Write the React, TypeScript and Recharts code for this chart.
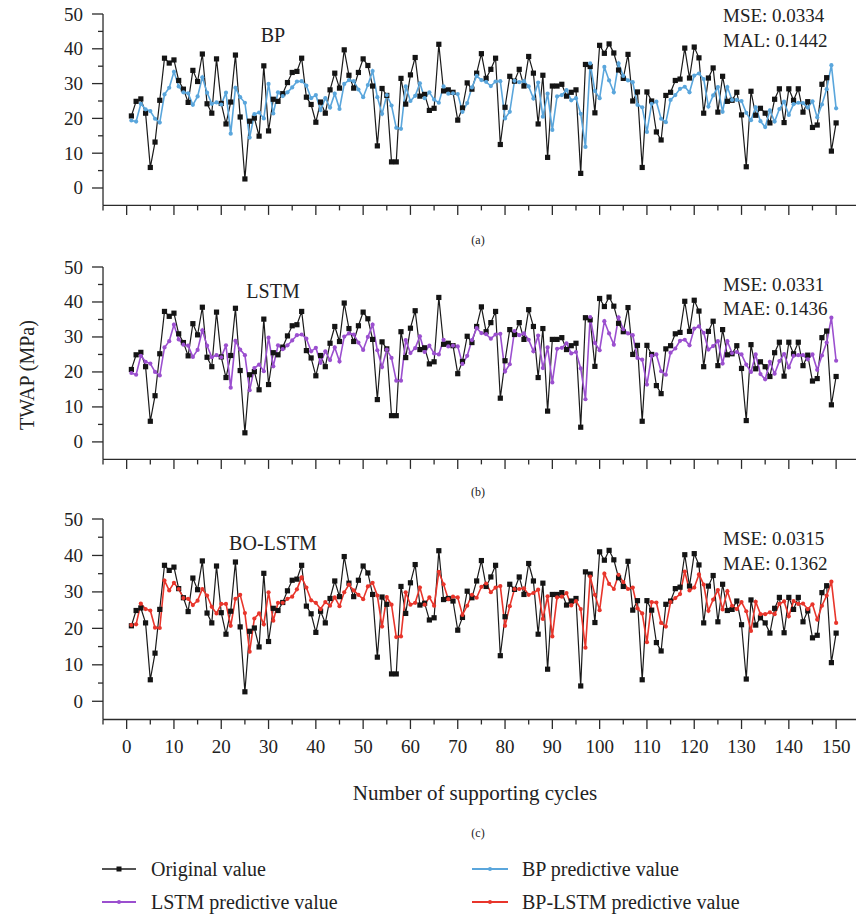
import React from 'react';
import { LineChart, Line, XAxis, YAxis } from 'recharts';

const FONT = '"Liberation Serif", "Times New Roman", serif';
const AXIS = '#2b2b2b';

const cycles: number[] = Array.from({ length: 150 }, (_, i) => i + 1);

const original = [
  20.7, 24.9, 25.6, 21.5, 5.9, 13.2, 25.2, 37.3, 35.9, 36.8,
  30.9, 28.4, 24.6, 33.8, 30.6, 38.5, 24.2, 21.5, 37.1, 24.3,
  18.4, 24.7, 38.2, 20.4, 2.6, 19.2, 20.1, 14.9, 35.1, 16.4,
  25.5, 24.9, 27.1, 30.3, 33.2, 33.5, 37.3, 26.1, 24.0, 18.9,
  24.7, 21.5, 28.2, 33.0, 28.7, 39.7, 32.4, 28.7, 33.2, 37.1,
  35.2, 29.3, 12.1, 28.6, 26.6, 7.5, 7.5, 31.5, 24.1, 32.5,
  37.5, 26.4, 26.9, 22.3, 22.9, 41.3, 27.9, 28.2, 27.5, 19.5,
  23.0, 30.2, 28.4, 33.0, 38.6, 31.5, 34.1, 37.3, 12.5, 23.2,
  32.1, 30.7, 34.1, 29.3, 37.8, 33.0, 18.4, 32.4, 8.8, 29.3,
  29.3, 29.8, 26.4, 27.5, 28.2, 4.2, 35.5, 34.9, 21.6, 41.0,
  38.7, 41.4, 38.8, 33.9, 31.5, 38.4, 25.0, 27.6, 5.9, 27.6,
  25.0, 16.1, 13.8, 26.6, 27.5, 30.9, 31.3, 40.2, 31.6, 40.5,
  37.4, 21.5, 31.6, 34.5, 21.8, 32.1, 24.9, 25.2, 27.5, 21.0,
  6.1, 27.8, 20.9, 22.9, 21.5, 18.7, 25.5, 28.5, 18.8, 28.5,
  25.2, 28.5, 21.8, 24.8, 17.4, 18.1, 29.8, 31.7, 10.6, 18.7,
];

const bpPred = [
  19.4, 19.1, 24.2, 22.6, 22.1, 19.9, 18.8, 26.9, 28.8, 33.4,
  29.2, 27.5, 27.2, 23.9, 26.3, 31.8, 27.4, 24.2, 24.6, 24.0,
  27.4, 15.6, 28.8, 26.1, 24.5, 14.5, 21.2, 21.7, 20.0, 29.9,
  21.4, 27.5, 26.4, 27.5, 28.9, 30.6, 30.7, 29.4, 25.8, 26.7,
  22.4, 25.8, 23.1, 27.1, 22.7, 29.9, 31.0, 30.7, 28.3, 26.1,
  29.6, 33.6, 26.1, 21.3, 26.7, 23.7, 17.3, 17.0, 29.2, 25.0,
  26.5, 30.1, 25.8, 27.5, 25.4, 24.5, 29.2, 27.1, 27.2, 27.0,
  21.9, 24.4, 28.9, 32.2, 31.0, 30.5, 29.3, 30.6, 30.7, 20.0,
  21.9, 30.8, 30.4, 30.7, 29.2, 25.7, 30.3, 20.5, 27.1, 16.7,
  26.3, 26.7, 28.1, 25.2, 25.8, 21.3, 11.8, 35.8, 27.9, 25.8,
  34.8, 30.9, 27.5, 35.8, 32.2, 30.9, 30.4, 23.9, 23.2, 16.1,
  24.2, 24.8, 19.9, 18.9, 25.3, 26.7, 28.5, 29.1, 27.5, 32.3,
  32.9, 31.3, 23.4, 26.6, 29.0, 21.9, 29.0, 25.3, 25.3, 25.0,
  21.6, 19.5, 23.2, 19.2, 17.5, 22.3, 19.1, 22.7, 24.8, 21.0,
  24.1, 24.5, 24.4, 23.1, 24.9, 20.3, 24.0, 28.4, 35.3, 22.9,
];

const lstmPred = [
  19.7, 19.2, 24.6, 22.9, 22.4, 20.0, 19.0, 27.0, 28.8, 33.5,
  29.3, 27.8, 27.5, 24.3, 26.3, 31.9, 27.5, 24.2, 24.8, 24.2,
  27.6, 15.5, 28.9, 26.4, 24.8, 14.8, 21.1, 22.1, 20.2, 29.8,
  21.6, 27.6, 26.5, 27.6, 29.0, 30.5, 30.7, 29.5, 25.9, 26.9,
  22.6, 25.9, 23.4, 27.0, 23.0, 30.1, 31.0, 30.7, 28.4, 26.3,
  30.0, 33.5, 26.2, 21.4, 26.4, 24.0, 17.5, 17.5, 29.1, 25.4,
  26.8, 30.2, 25.7, 27.5, 25.3, 25.0, 29.2, 27.3, 27.5, 27.3,
  22.3, 24.6, 29.1, 32.5, 31.1, 30.8, 29.5, 30.7, 30.9, 20.1,
  22.2, 31.7, 30.5, 31.0, 29.2, 25.9, 30.4, 21.1, 27.0, 17.0,
  26.6, 26.9, 28.2, 25.3, 25.7, 21.0, 12.2, 35.7, 28.3, 26.2,
  34.5, 31.0, 27.8, 35.6, 32.2, 31.0, 30.5, 24.0, 23.5, 16.4,
  24.6, 25.0, 20.2, 19.2, 25.5, 26.7, 28.9, 29.2, 27.6, 32.4,
  33.0, 31.2, 26.4, 27.4, 28.8, 22.4, 28.8, 25.4, 25.7, 25.0,
  22.1, 20.0, 25.0, 19.4, 17.9, 22.9, 19.5, 23.1, 25.1, 21.3,
  24.6, 24.8, 24.8, 23.6, 25.0, 20.6, 24.7, 28.4, 35.5, 23.2,
];

const boLstmPred = [
  20.9, 21.1, 26.8, 25.3, 24.9, 20.2, 20.1, 33.1, 30.4, 32.5,
  30.8, 28.3, 28.1, 26.4, 27.6, 30.8, 29.0, 25.9, 24.1, 26.7,
  26.7, 20.7, 28.1, 29.2, 24.2, 13.6, 22.7, 24.1, 21.1, 29.9,
  22.1, 27.0, 27.0, 28.1, 28.7, 30.7, 34.0, 31.2, 27.7, 27.0,
  25.3, 27.2, 26.2, 28.5, 26.1, 29.9, 32.0, 30.4, 29.2, 28.0,
  31.5, 32.5, 29.0, 20.5, 28.6, 26.5, 17.6, 17.8, 29.9, 26.5,
  27.0, 31.2, 26.5, 28.5, 26.2, 35.5, 32.1, 28.0, 28.7, 28.5,
  23.7, 26.2, 29.2, 28.4, 31.4, 32.3, 29.9, 31.2, 31.6, 20.7,
  26.1, 30.8, 30.8, 31.0, 29.2, 29.7, 30.6, 22.6, 28.8, 17.8,
  28.5, 28.7, 29.7, 26.3, 27.5, 25.3, 14.7, 34.2, 29.2, 25.0,
  35.0, 32.2, 30.8, 34.7, 32.7, 30.8, 31.2, 25.5, 24.1, 16.2,
  27.2, 27.1, 21.5, 20.5, 27.2, 28.3, 29.4, 35.6, 30.4, 31.2,
  34.8, 32.0, 24.8, 27.9, 30.5, 25.2, 30.2, 26.2, 25.3, 27.2,
  24.7, 19.3, 27.3, 23.9, 23.9, 24.4, 23.9, 26.7, 27.4, 23.3,
  27.5, 26.7, 26.8, 25.3, 26.6, 22.4, 26.2, 29.0, 32.8, 21.5,
];

const xTicks = [-5, 0, 5, 10, 15, 20, 25, 30, 35, 40, 45, 50, 55, 60, 65, 70, 75, 80, 85, 90, 95, 100, 105, 110, 115, 120, 125, 130, 135, 140, 145, 150];
const yTicks = [0, 5, 10, 15, 20, 25, 30, 35, 40, 45, 50];

const data = cycles.map((c, i) => ({
  x: c,
  orig: original[i],
  bp: bpPred[i],
  lstm: lstmPred[i],
  bolstm: boLstmPred[i],
}));

const XMAX = 154.2;

const XTick = (props: any) => {
  const { x, y, payload, showLabels } = props;
  const v = payload.value;
  const major = v % 10 === 0 && v >= 0;
  return (
    <g>
      <line x1={x} x2={x} y1={y} y2={y + (major ? 9.5 : 5)} stroke={AXIS} strokeWidth={1.3} />
      {showLabels && major ? (
        <text x={x} y={y + 33} textAnchor="middle" fontFamily={FONT} fontSize={19} fill="#222">
          {v}
        </text>
      ) : null}
    </g>
  );
};

const YTick = (props: any) => {
  const { x, y, payload } = props;
  const v = payload.value;
  const major = v % 10 === 0;
  return (
    <g>
      <line x1={x - (major ? 11 : 5)} x2={x} y1={y} y2={y} stroke={AXIS} strokeWidth={1.3} />
      {major ? (
        <text x={x - 20} y={y + 6.5} textAnchor="end" fontFamily={FONT} fontSize={19} fill="#222">
          {v}
        </text>
      ) : null}
    </g>
  );
};

const squareDot = (p: any) => (
  <rect key={`sq-${p.index}`} x={p.cx - 2.6} y={p.cy - 2.6} width={5.2} height={5.2} fill="#141414" />
);

const makeCircleDot = (color: string) => (p: any) => (
  <circle key={`c-${p.index}`} cx={p.cx} cy={p.cy} r={2.1} fill={color} />
);

const BLUE = '#5aa6dc';
const PURPLE = '#9b4fcf';
const RED = '#e8352b';

function Panel({ plotTop, plotH, keyName, color, showLabels }: any) {
  const mt = 10;
  const xh = 50;
  const H = mt + plotH + xh;
  return (
    <div style={{ position: 'absolute', left: 0, top: plotTop - mt, width: 856, height: H }}>
      <LineChart
        width={856}
        height={H}
        data={data}
        margin={{ top: mt, right: 0, bottom: 0, left: 0 }}
        style={{ overflow: 'visible' }}
      >
        <XAxis
          dataKey="x"
          type="number"
          domain={[-5, XMAX]}
          ticks={xTicks}
          interval={0}
          tickSize={0}
          tickMargin={0}
          height={xh}
          tickLine={false}
          axisLine={{ stroke: AXIS, strokeWidth: 1.3 }}
          tick={<XTick showLabels={showLabels} />}
        />
        <YAxis
          type="number"
          domain={[-5, 50]}
          ticks={yTicks}
          interval={0}
          width={103}
          tickSize={0}
          tickMargin={0}
          tickLine={false}
          axisLine={{ stroke: AXIS, strokeWidth: 1.3 }}
          tick={<YTick />}
        />
        <Line
          type="linear"
          dataKey="orig"
          stroke="#1a1a1a"
          strokeWidth={1.2}
          dot={squareDot}
          activeDot={false}
          isAnimationActive={false}
        />
        <Line
          type="linear"
          dataKey={keyName}
          stroke={color}
          strokeWidth={1.6}
          dot={makeCircleDot(color)}
          activeDot={false}
          isAnimationActive={false}
        />
      </LineChart>
    </div>
  );
}

const T = (props: any) => (
  <text fontFamily={FONT} fill="#222" {...props} />
);

export default function App() {
  return (
    <div style={{ position: 'absolute', left: 0, top: 0, width: 856, height: 917, background: '#fff' }}>
      <Panel plotTop={14.3} plotH={191.4} keyName="bp" color={BLUE} showLabels={false} />
      <Panel plotTop={266.7} plotH={192.4} keyName="lstm" color={PURPLE} showLabels={false} />
      <Panel plotTop={519} plotH={200.5} keyName="bolstm" color={RED} showLabels={true} />
      <svg
        width={856}
        height={917}
        style={{ position: 'absolute', left: 0, top: 0, pointerEvents: 'none' }}
      >
        <T x={273} y={41.7} textAnchor="middle" fontSize={20}>BP</T>
        <T x={723} y={22.3} fontSize={19}>MSE: 0.0334</T>
        <T x={723} y={46.7} fontSize={19}>MAL: 0.1442</T>
        <T x={478} y={244} textAnchor="middle" fontSize={12}>(a)</T>

        <T x={273} y={298.3} textAnchor="middle" fontSize={20}>LSTM</T>
        <T x={723} y={290.7} fontSize={19}>MSE: 0.0331</T>
        <T x={723} y={314.7} fontSize={19}>MAE: 0.1436</T>
        <T x={478} y={496} textAnchor="middle" fontSize={12}>(b)</T>

        <T x={273} y={550} textAnchor="middle" fontSize={20}>BO-LSTM</T>
        <T x={723} y={545} fontSize={19}>MSE: 0.0315</T>
        <T x={723} y={569.5} fontSize={19}>MAE: 0.1362</T>

        <T x={475} y={800} textAnchor="middle" fontSize={21}>Number of supporting cycles</T>
        <T x={478} y={837} textAnchor="middle" fontSize={12}>(c)</T>
        <T x={0} y={0} textAnchor="middle" fontSize={20} transform="translate(34,375) rotate(-90)">TWAP (MPa)</T>

        <line x1={102} x2={136} y1={869} y2={869} stroke="#1a1a1a" strokeWidth={1.4} />
        <rect x={116.5} y={866.5} width={5} height={5} fill="#141414" />
        <T x={151} y={875.5} fontSize={20}>Original value</T>

        <line x1={472} x2={508} y1={869} y2={869} stroke={BLUE} strokeWidth={1.8} />
        <circle cx={490} cy={869} r={2} fill={BLUE} />
        <T x={522} y={875.5} fontSize={20}>BP predictive value</T>

        <line x1={102} x2={136} y1={902} y2={902} stroke={PURPLE} strokeWidth={1.8} />
        <circle cx={119} cy={902} r={2} fill={PURPLE} />
        <T x={151} y={908.5} fontSize={20}>LSTM predictive value</T>

        <line x1={472} x2={508} y1={902} y2={902} stroke={RED} strokeWidth={1.8} />
        <circle cx={490} cy={902} r={2} fill={RED} />
        <T x={522} y={908.5} fontSize={20}>BP-LSTM predictive value</T>
      </svg>
    </div>
  );
}
